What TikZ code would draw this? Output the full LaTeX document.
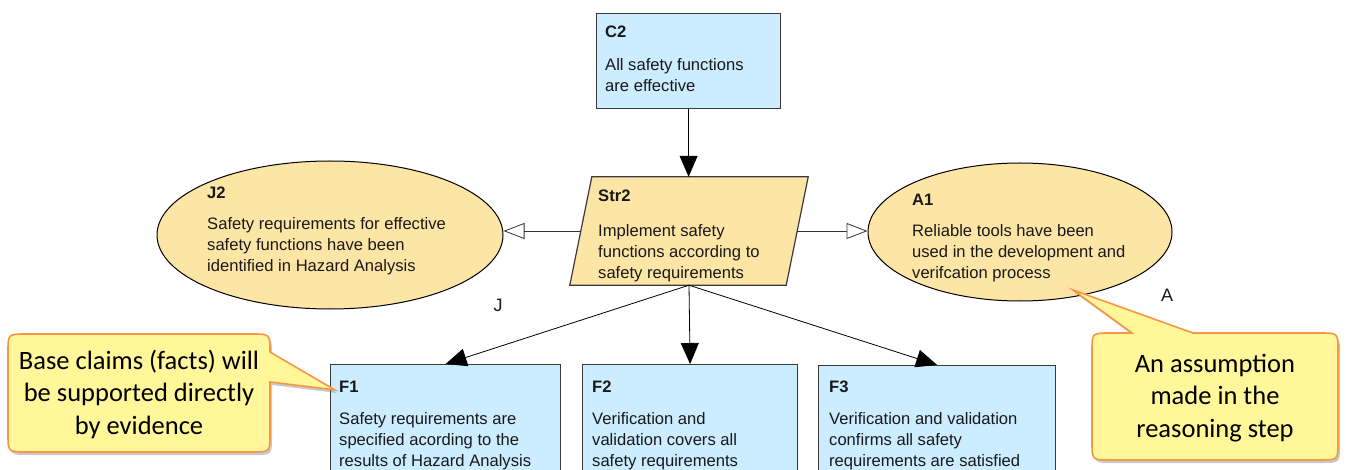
\documentclass[tikz,border=0pt]{standalone}
\usepackage{fontspec}
\setmainfont{Liberation Sans}
\newfontfamily\calloutfont{Carlito}
\usetikzlibrary{arrows.meta,shapes.geometric,shadows}

\definecolor{goalblue}{HTML}{CCECFF}
\definecolor{ctxorange}{HTML}{FDE5A5}
\definecolor{boxline}{HTML}{3A3A3A}
\definecolor{notefill}{HTML}{FFF799}
\definecolor{noteline}{HTML}{F79646}

\tikzset{
  goalbox/.style={draw=boxline, line width=1.2pt, fill=goalblue, inner sep=0pt, anchor=north west},
  ctxellipse/.style={ellipse, draw=black, line width=1pt, fill=ctxorange, inner sep=0pt},
  strshape/.style={draw=boxline, line width=1.2pt, fill=ctxorange},
  gsntext/.style={font=\fontsize{16.6}{21}\selectfont, align=left, inner sep=0pt, anchor=north west, text=black!90},
  tag/.style={font=\fontsize{18}{22}\selectfont, inner sep=0pt, text=black!90},
  solved/.style={draw=black, line width=0.8pt, -{Triangle[length=21pt, width=18pt]}},
  incontext/.style={draw=black!80, line width=0.8pt, -{Triangle[open, length=21pt, width=16pt, fill=white]}},
  notebubble/.style={fill=notefill, draw=noteline, line width=1.6pt,
    drop shadow={shadow xshift=2pt, shadow yshift=-3pt, opacity=0.3, fill=black!70}},
  notetext/.style={font=\calloutfont\fontsize{26.5}{32.5}\selectfont, align=center, inner sep=0pt, text=black}
}

\begin{document}
\begin{tikzpicture}[x=1pt, y=-1pt]
\useasboundingbox (0,0) rectangle (1346,470);
\clip (0,0) rectangle (1346,470);

% invisible frame that carries the anchors of the strategy
\node[draw=none, minimum width=216pt, minimum height=108pt, inner sep=0pt] (Str2) at (689,231) {};

% goals and context shapes
\node[goalbox, minimum width=184pt, minimum height=95pt] (C2) at (596,13) {};
\node[ctxellipse, minimum width=346pt, minimum height=148pt] (J2) at (330,235) {};
\node[ctxellipse, minimum width=304pt, minimum height=138pt] (A1) at (1020,232) {};
\node[goalbox, minimum width=230pt, minimum height=120pt] (F1) at (330,364) {};
\node[goalbox, minimum width=215pt, minimum height=120pt] (F2) at (582,364) {};
\node[goalbox, minimum width=237pt, minimum height=120pt] (F3) at (818,365) {};

% strategy parallelogram
\draw[strshape] ([xshift=11pt]Str2.north west) -- ([xshift=11pt]Str2.north east)
  -- ([xshift=-11pt]Str2.south east) -- ([xshift=-11pt]Str2.south west) -- cycle;

% links
\draw[solved] (C2.south) -- (C2.south |- Str2.north);
\draw[incontext] (Str2.west) -- (Str2.west -| J2.east);
\draw[incontext] (Str2.east) -- (Str2.east -| A1.west);
\draw[solved] (Str2.south) -- (F1.north);
\draw[solved] (Str2.south) -- (F2.north);
\draw[solved] (Str2.south) -- (F3.north);

% element texts
\node[gsntext] (C2t) at (605,26) {\textbf{C2}\\[12pt]All safety functions\\are effective};
\node[gsntext] (Str2t) at (598,190) {\textbf{Str2}\\[14pt]Implement safety\\functions according to\\safety requirements};
\node[gsntext] (J2t) at (207,187) {\textbf{J2}\\[10pt]Safety requirements for effective\\safety functions have been\\identified in Hazard Analysis};
\node[gsntext] (A1t) at (912,194) {\textbf{A1}\\[10pt]Reliable tools have been\\used in the development and\\verifcation process};
\node[gsntext] (F1t) at (339,381) {\textbf{F1}\\[11pt]Safety requirements are\\specified acording to the\\results of Hazard Analysis};
\node[gsntext] (F2t) at (592,381) {\textbf{F2}\\[11pt]Verification and\\validation covers all\\safety requirements};
\node[gsntext] (F3t) at (829,381) {\textbf{F3}\\[11pt]Verification and validation\\confirms all safety\\requirements are satisfied};

% type letters
\node[tag] (Jtag) at (498,305) {J};
\node[tag] (Atag) at (1167,295) {A};

% speech bubbles
\draw[notebubble]
  (26,334) -- (252,334) .. controls (270,334) .. (270,352) -- (335,390) -- (270,382)
  -- (270,434) .. controls (270,452) .. (252,452) -- (26,452) .. controls (8,452) .. (8,434)
  -- (8,352) .. controls (8,334) .. (26,334) -- cycle;
\node[notetext] (note1) at (139,394) {Base claims (facts) will\\be supported directly\\by evidence};

\draw[notebubble]
  (1110,333) -- (1132,333) -- (1073,290) -- (1193,333) -- (1320,333) .. controls (1338,333) .. (1338,351)
  -- (1338,442) .. controls (1338,460) .. (1320,460) -- (1110,460) .. controls (1092,460) .. (1092,442)
  -- (1092,351) .. controls (1092,333) .. (1110,333) -- cycle;
\node[notetext] (note2) at (1215,398) {An assumption\\made in the\\reasoning step};
\end{tikzpicture}
\end{document}
